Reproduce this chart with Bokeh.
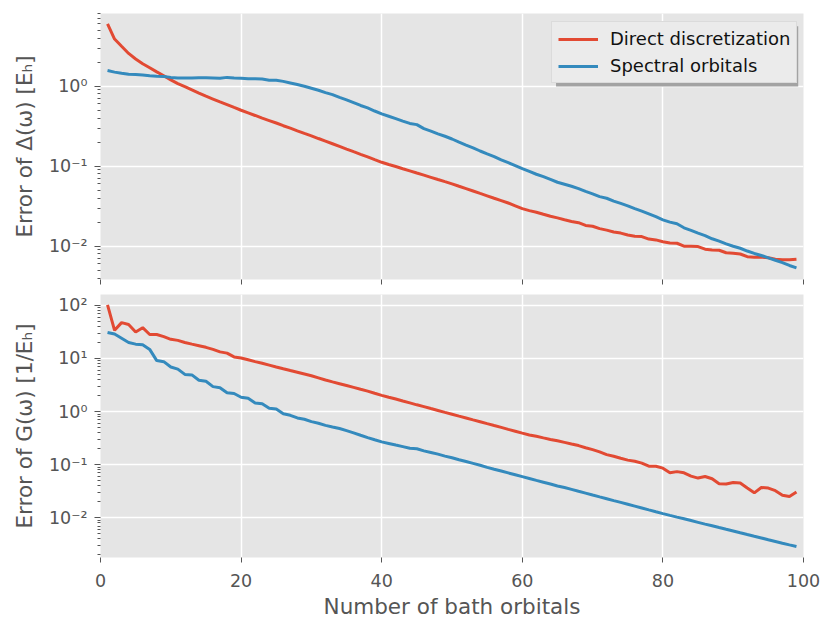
from bokeh.plotting import figure
from bokeh.layouts import column
from bokeh.models import (FixedTicker, CustomJSTickFormatter, Range1d, Legend, LegendItem,
                          BoxAnnotation)
from bokeh.embed import file_html
from bokeh.resources import INLINE

# ---------------- data ----------------
orbitals = list(range(1, 100))

delta_direct = [
    6.03, 3.89, 3.16, 2.57, 2.19, 1.91, 1.70, 1.51, 1.35, 1.20,
    1.08, 0.989, 0.902, 0.822, 0.750, 0.692, 0.638, 0.589, 0.543, 0.501,
    0.465, 0.431, 0.399, 0.372, 0.347, 0.321, 0.299, 0.277, 0.257, 0.240,
    0.222, 0.206, 0.191, 0.177, 0.164, 0.152, 0.141, 0.131, 0.121, 0.112,
    0.105, 0.0991, 0.0931, 0.0875, 0.0822, 0.0773, 0.0726, 0.0682, 0.0641, 0.0603,
    0.0562, 0.0525, 0.0490, 0.0457, 0.0427, 0.0398, 0.0372, 0.0347, 0.0320, 0.0295,
    0.0279, 0.0266, 0.0251, 0.0237, 0.0226, 0.0214, 0.0204, 0.0197, 0.0182, 0.0178,
    0.0166, 0.0159, 0.0151, 0.0146, 0.0138, 0.0133, 0.0132, 0.0123, 0.0120, 0.0114,
    0.0110, 0.0109, 0.0100, 0.0100, 0.0099, 0.0092, 0.0090, 0.0089, 0.0083, 0.0082,
    0.0080, 0.0074, 0.0073, 0.0073, 0.0072, 0.0069, 0.0068, 0.0068, 0.0069,
]

delta_spectral = [
    1.57, 1.50, 1.45, 1.41, 1.40, 1.38, 1.35, 1.33, 1.32, 1.29,
    1.27, 1.27, 1.27, 1.28, 1.28, 1.27, 1.26, 1.29, 1.27, 1.26,
    1.24, 1.24, 1.23, 1.19, 1.19, 1.15, 1.10, 1.05, 1.00, 0.944,
    0.891, 0.832, 0.785, 0.724, 0.676, 0.624, 0.575, 0.537, 0.490, 0.452,
    0.422, 0.394, 0.367, 0.343, 0.331, 0.295, 0.275, 0.254, 0.237, 0.219,
    0.200, 0.184, 0.170, 0.155, 0.143, 0.132, 0.120, 0.111, 0.102, 0.0933,
    0.0861, 0.0794, 0.0741, 0.0684, 0.0631, 0.0596, 0.0562, 0.0525, 0.0484, 0.0452,
    0.0417, 0.0398, 0.0367, 0.0343, 0.0320, 0.0295, 0.0275, 0.0254, 0.0234, 0.0214,
    0.0200, 0.0191, 0.0170, 0.0158, 0.0146, 0.0136, 0.0124, 0.0116, 0.0107, 0.0100,
    0.00944, 0.00871, 0.00813, 0.00767, 0.00716, 0.00668, 0.00624, 0.00575, 0.00537,
]

green_direct = [
    102.0, 33.9, 47.3, 43.7, 31.6, 38.0, 28.2, 28.2, 25.7, 22.9,
    21.9, 20.0, 18.6, 17.4, 16.2, 14.8, 13.3, 12.6, 10.7, 10.2,
    9.44, 8.71, 8.13, 7.50, 6.92, 6.41, 5.94, 5.51, 5.11, 4.73,
    4.32, 3.94, 3.63, 3.35, 3.09, 2.85, 2.63, 2.43, 2.21, 2.02,
    1.86, 1.72, 1.58, 1.46, 1.34, 1.24, 1.14, 1.05, 0.966, 0.891,
    0.822, 0.759, 0.698, 0.643, 0.592, 0.546, 0.504, 0.463, 0.427, 0.393,
    0.363, 0.343, 0.320, 0.299, 0.282, 0.263, 0.245, 0.229, 0.209, 0.192,
    0.174, 0.155, 0.144, 0.132, 0.122, 0.116, 0.107, 0.0935, 0.0935, 0.0860,
    0.0704, 0.0740, 0.0704, 0.0610, 0.0560, 0.0600, 0.0543, 0.0437, 0.0432, 0.0463,
    0.0452, 0.0363, 0.0295, 0.0372, 0.0363, 0.0324, 0.0266, 0.0251, 0.0306,
]

green_spectral = [
    30.9, 28.8, 24.0, 20.0, 18.6, 18.2, 14.8, 9.12, 8.71, 6.92,
    6.31, 5.01, 4.90, 3.89, 3.72, 2.95, 2.82, 2.26, 2.19, 1.86,
    1.78, 1.45, 1.40, 1.15, 1.12, 0.912, 0.851, 0.759, 0.716, 0.646,
    0.603, 0.550, 0.513, 0.479, 0.437, 0.398, 0.359, 0.324, 0.295, 0.269,
    0.251, 0.234, 0.219, 0.204, 0.200, 0.182, 0.170, 0.158, 0.145, 0.135,
    0.124, 0.115, 0.106, 0.0977, 0.0891, 0.0822, 0.0759, 0.0700, 0.0646, 0.0596,
    0.0550, 0.0507, 0.0468, 0.0432, 0.0398, 0.0372, 0.0343, 0.0316, 0.0292, 0.0269,
    0.0248, 0.0229, 0.0211, 0.0195, 0.0180, 0.0166, 0.0153, 0.0141, 0.0130, 0.0120,
    0.0111, 0.0103, 0.00957, 0.00887, 0.00822, 0.00762, 0.00708, 0.00656, 0.00608, 0.00564,
    0.00522, 0.00484, 0.00449, 0.00417, 0.00386, 0.00358, 0.00332, 0.00309, 0.00288,
]

series_names = ["Direct discretization", "Spectral orbitals"]
x_ticks = [0, 20, 40, 60, 80, 100]
decades = [1e-4, 1e-3, 1e-2, 1e-1, 1e0, 1e1, 1e2, 1e3]
x_label = "Number of bath orbitals"
y_label_top = "Error of \u0394(\u03c9) [E\u2095]"
y_label_bottom = "Error of G(\u03c9) [1/E\u2095]"

# ---------------- style ----------------
RED = "#E24A33"
BLUE = "#348ABD"
FONT = "DejaVu Sans"
GREY = "#555555"

minor = [k * d for d in decades for k in range(2, 10)]

sup_code = r"""
const sup = {'-':'\u207b','0':'\u2070','1':'\u00b9','2':'\u00b2','3':'\u00b3',
             '4':'\u2074','5':'\u2075','6':'\u2076','7':'\u2077','8':'\u2078','9':'\u2079'};
const e = Math.round(Math.log10(tick));
return '10' + String(e).split('').map(c => sup[c]).join('');
"""


def make_fig(y_lo, y_hi, height, top, bottom, y_label):
    p = figure(width=821, height=height,
               x_range=Range1d(0, 100), y_range=Range1d(y_lo, y_hi),
               y_axis_type="log", output_backend="svg", toolbar_location=None,
               min_border_left=100, min_border_right=18,
               min_border_top=top, min_border_bottom=bottom)
    p.background_fill_color = "#E5E5E5"
    p.border_fill_color = "white"
    p.outline_line_color = None
    p.xgrid.grid_line_color = "white"
    p.ygrid.grid_line_color = "white"
    p.xgrid.grid_line_width = 1.5
    p.ygrid.grid_line_width = 1.5

    p.xaxis.ticker = FixedTicker(ticks=x_ticks)
    p.yaxis.ticker = FixedTicker(ticks=decades, minor_ticks=minor)
    p.yaxis.formatter = CustomJSTickFormatter(code=sup_code)

    for ax in (p.xaxis[0], p.yaxis[0]):
        ax.axis_line_color = None
        ax.major_tick_line_color = GREY
        ax.minor_tick_line_color = GREY
        ax.major_tick_in = 0
        ax.minor_tick_in = 0
        ax.major_label_text_font = FONT
        ax.major_label_text_font_size = "17.5px"
        ax.major_label_text_color = GREY
        ax.axis_label_text_font = FONT
        ax.axis_label_text_font_size = "21.5px"
        ax.axis_label_text_font_style = "normal"
        ax.axis_label_text_color = GREY
    p.xaxis.major_tick_out = 5
    p.yaxis.major_tick_out = 6
    p.yaxis.minor_tick_out = 3
    p.yaxis.major_label_standoff = 7
    p.yaxis.axis_label_standoff = 9
    p.yaxis.axis_label = y_label
    return p


top = make_fig(0.00384, 8.11, 287, 13, 8, y_label_top)
bot = make_fig(0.00179, 160.0, 334, 7, 62, y_label_bottom)

# top figure: tick marks only on x axis
top.xaxis.formatter = CustomJSTickFormatter(code="return '';")
top.xaxis.major_label_text_font_size = "1px"
top.xaxis.major_label_standoff = 0

bot.xaxis.axis_label = x_label
bot.xaxis.major_label_standoff = 11
bot.xaxis.axis_label_standoff = 4

r1 = top.line(orbitals, delta_direct, line_color=RED, line_width=3)
r2 = top.line(orbitals, delta_spectral, line_color=BLUE, line_width=3)
bot.line(orbitals, green_direct, line_color=RED, line_width=3)
bot.line(orbitals, green_spectral, line_color=BLUE, line_width=3)

# soft shadow behind the legend box (decoration only)
top.add_layout(BoxAnnotation(left=64.8, right=99.25, top=5.6, bottom=0.99,
                             fill_color="#A3A3A3", fill_alpha=1.0,
                             line_color=None))

legend = Legend(items=[LegendItem(label=series_names[0], renderers=[r1]),
                       LegendItem(label=series_names[1], renderers=[r2])],
                location=(451, 196), padding=6, spacing=6,
                glyph_width=40, glyph_height=20, label_height=20, label_standoff=12,
                label_text_font=FONT, label_text_font_size="18px",
                label_text_color="#111111",
                background_fill_color="#EBEBEB", background_fill_alpha=1.0,
                border_line_color="#CCCCCC", border_line_width=1)
top.add_layout(legend)

layout = column(top, bot, spacing=0)

with open("out.html", "w", encoding="utf-8") as f:
    f.write(file_html(layout, INLINE))
